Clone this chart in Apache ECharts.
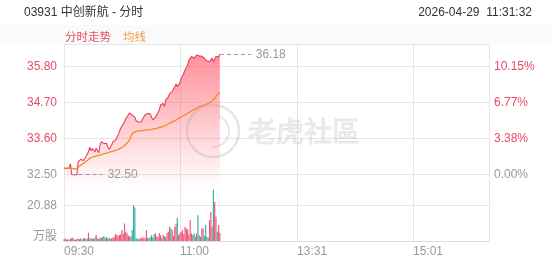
<!DOCTYPE html>
<html>
<head>
<meta charset="utf-8">
<script src="https://cdn.jsdelivr.net/npm/echarts@6/dist/echarts.min.js"></script>
<style>
html,body{margin:0;padding:0;background:#fff;}
#chart{width:552px;height:265px;}
</style>
</head>
<body>
<div id="chart"></div>
<script>
// ---------- data ----------
const stockTitle = '03931 中创新航 - 分时';
const stampText = '2026-04-29  11:31:32';
const preClose = 32.50;
const priceTicks = [32.50, 33.60, 34.70, 35.80];
const volumeTick = 20.88;
const tickLabels = ['09:30', '11:00', '13:31', '15:01'];

const priceData = [
  32.70, 32.70, 32.68, 32.72, 32.70, 32.83, 32.50, 32.50, 32.50, 32.52,
  32.50, 32.90, 32.93, 32.97, 32.95, 32.93, 32.92, 33.05, 33.02, 33.20,
  33.34, 33.23, 33.30, 33.36, 33.20, 33.31, 33.24, 33.17, 33.40, 33.51,
  33.50, 33.45, 33.41, 33.46, 33.35, 33.27, 33.25, 33.40, 33.51, 33.52,
  33.55, 33.58, 33.71, 33.76, 33.92, 33.95, 34.05, 34.12, 34.20, 34.27,
  34.33, 34.39, 34.36, 34.32, 34.28, 34.25, 34.15, 34.09, 34.10, 34.12,
  34.12, 34.20, 34.25, 34.33, 34.39, 34.37, 34.38, 34.36, 34.25, 34.18,
  34.17, 34.25, 34.30, 34.40, 34.48, 34.63, 34.60, 34.68, 34.58, 34.78,
  34.80, 34.88, 34.97, 34.95, 35.04, 35.10, 35.19, 35.27, 35.19, 35.25,
  35.31, 35.44, 35.50, 35.60, 35.70, 35.75, 35.85, 36.00, 36.05, 36.11,
  36.08, 36.06, 36.12, 36.16, 36.14, 36.13, 36.09, 36.12, 36.16, 36.06,
  36.00, 35.97, 35.92, 35.96, 36.00, 36.06, 35.96, 36.02, 36.11, 36.06,
  36.10, 36.18
];

const avgData = [
  32.70, 32.70, 32.70, 32.70, 32.71, 32.72, 32.70, 32.68, 32.67, 32.68,
  32.69, 32.72, 32.76, 32.80, 32.82, 32.85, 32.87, 32.90, 32.93, 32.96,
  33.00, 33.02, 33.04, 33.05, 33.06, 33.07, 33.08, 33.09, 33.10, 33.12,
  33.13, 33.14, 33.15, 33.16, 33.17, 33.18, 33.20, 33.21, 33.22, 33.23,
  33.24, 33.25, 33.27, 33.29, 33.31, 33.34, 33.36, 33.39, 33.43, 33.47,
  33.51, 33.58, 33.67, 33.75, 33.80, 33.81, 33.82, 33.83, 33.84, 33.84,
  33.85, 33.85, 33.86, 33.86, 33.87, 33.87, 33.88, 33.88, 33.89, 33.90,
  33.91, 33.91, 33.92, 33.93, 33.94, 33.95, 33.96, 33.97, 33.99, 34.01,
  34.03, 34.05, 34.07, 34.09, 34.11, 34.13, 34.15, 34.17, 34.19, 34.22,
  34.25, 34.27, 34.29, 34.31, 34.33, 34.35, 34.38, 34.40, 34.43, 34.45,
  34.47, 34.49, 34.51, 34.53, 34.55, 34.58, 34.59, 34.60, 34.62, 34.63,
  34.65, 34.66, 34.68, 34.70, 34.72, 34.75, 34.78, 34.83, 34.88, 34.94,
  34.98, 35.01
];

// 万股
const volumeData = [
  1.0, 1.5, 0.8, 1.2, 0.6, 1.4, 1.8, 2.1, 0.9, 0.7,
  1.2, 1.5, 1.0, 1.6, 0.8, 1.4, 1.8, 1.2, 1.5, 4.9,
  1.3, 1.6, 1.4, 1.2, 2.0, 3.5, 1.5, 1.2, 2.1, 1.8,
  2.4, 2.9, 1.6, 2.5, 1.5, 1.9, 1.3, 1.5, 2.0, 2.2,
  4.1, 3.5, 2.8, 3.5, 4.0, 6.4, 4.2, 10.3, 5.5, 4.5,
  3.2, 2.5, 3.0, 6.4, 21.1, 19.7, 1.8, 1.2, 1.0, 1.6,
  2.0, 1.5, 2.2, 1.4, 6.4, 2.0, 1.5, 2.4, 3.5, 2.0,
  3.9, 4.5, 2.6, 2.2, 4.5, 3.5, 1.8, 3.5, 2.9, 2.2,
  4.5, 5.5, 8.4, 7.4, 6.4, 3.0, 8.4, 10.3, 13.6, 3.5,
  4.5, 5.5, 6.4, 4.0, 8.4, 7.4, 6.8, 3.8, 12.3, 4.5,
  3.5, 4.5, 2.8, 4.5, 15.2, 3.5, 2.5, 7.4, 7.4, 3.0,
  9.4, 2.5, 1.9, 12.3, 17.2, 8.4, 30.2, 23.0, 14.2, 5.5,
  9.4, 4.9
];

// trading minutes: 09:30-12:00, 13:01-16:00
function pad(n) { return (n < 10 ? '0' : '') + n; }
const timeCategories = [];
for (let m = 9 * 60 + 30; m <= 12 * 60; m++) timeCategories.push(pad(Math.floor(m / 60)) + ':' + pad(m % 60));
for (let m = 13 * 60 + 1; m <= 16 * 60; m++) timeCategories.push(pad(Math.floor(m / 60)) + ':' + pad(m % 60));

// ---------- styles ----------
const RED = '#e84a66';
const GREY = '#999999';
const GRID_LINE = '#e6e6e6';
const FONT = '"Liberation Sans", Arial, "Noto Sans CJK SC", sans-serif';
const UP_BAR = '#f0587a';
const DOWN_BAR = '#36b3a3';

// axis ranges (padding around labelled ticks)
const pMin = 32.124, pMax = 36.494;

let maxIdx = 0, minIdx = 0;
priceData.forEach((v, i) => {
  if (v > priceData[maxIdx]) maxIdx = i;
  if (v < priceData[minIdx]) minIdx = i;
});
const markSpan = 24;

const lastIdx = timeCategories.length - 1;
const showTick = (idx, val) => tickLabels.indexOf(val) >= 0;
const showSplit = (idx, val) => tickLabels.indexOf(val) >= 0 || idx === lastIdx;

const chart = echarts.init(document.getElementById('chart'), null, { renderer: 'canvas' });
chart.setOption({
  animation: false,
  textStyle: { fontFamily: FONT },
  title: [
    { text: stockTitle, left: 19, top: 2, textStyle: { fontSize: 12, fontWeight: 'normal', color: '#333', fontFamily: FONT } },
    { text: stampText, right: 15, top: 2, textStyle: { fontSize: 12, fontWeight: 'normal', color: '#333', fontFamily: FONT } }
  ],
  legend: {
    left: 55, top: 27, icon: 'rect', itemWidth: 0, itemHeight: 0, itemGap: 7,
    selectedMode: false,
    textStyle: { fontSize: 11.5, fontFamily: FONT },
    data: [
      { name: '分时走势', textStyle: { color: RED } },
      { name: '均线', textStyle: { color: '#f39a3c' } }
    ]
  },
  graphic: [
    { type: 'rect', z: -10, silent: true, shape: { x: 0, y: 25, width: 552, height: 19 }, style: { fill: '#fafafa' } },
    { type: 'circle', z: 100, silent: true, shape: { cx: 213, cy: 131, r: 26 }, style: { fill: 'none', stroke: 'rgba(150,150,150,0.25)', lineWidth: 2.5 } },
    { type: 'arc', z: 100, silent: true, shape: { cx: 213, cy: 131, r: 16, startAngle: -1.2, endAngle: 1.6 }, style: { fill: 'none', stroke: 'rgba(150,150,150,0.22)', lineWidth: 2 } },
    { type: 'text', z: 100, silent: true, x: 248, y: 131, style: { text: '老虎社區', font: '28px "Noto Sans CJK SC", sans-serif', fill: 'rgba(205,205,205,0.3)', stroke: 'rgba(150,150,150,0.2)', lineWidth: 1, verticalAlign: 'middle', align: 'left' } }
  ],
  grid: [
    { left: 64, right: 63, top: 44, height: 143 },
    { left: 64, right: 63, top: 170, bottom: 24 }
  ],
  xAxis: [
    {
      type: 'category', gridIndex: 0, data: timeCategories, boundaryGap: false, position: 'top',
      axisLine: { show: true, lineStyle: { color: GRID_LINE } },
      axisTick: { show: false }, axisLabel: { show: false },
      splitLine: { show: true, interval: showSplit, lineStyle: { color: GRID_LINE } }
    },
    {
      type: 'category', gridIndex: 1, data: timeCategories, boundaryGap: false,
      axisLine: { show: true, lineStyle: { color: '#dddddd' } },
      axisTick: { show: false },
      axisLabel: { show: true, interval: showTick, color: GREY, fontSize: 12, align: 'left', margin: 5, fontFamily: FONT },
      splitLine: { show: true, interval: showSplit, lineStyle: { color: GRID_LINE } }
    }
  ],
  yAxis: [
    {
      type: 'value', gridIndex: 0, min: pMin, max: pMax, position: 'left',
      axisLine: { show: false },
      axisTick: { show: false, customValues: priceTicks },
      axisLabel: {
        customValues: priceTicks, margin: 7, fontSize: 12, fontFamily: FONT,
        formatter: v => v.toFixed(2),
        color: v => (v > preClose ? RED : GREY)
      },
      splitLine: { show: true, lineStyle: { color: GRID_LINE, width: 1 } }
    },
    {
      type: 'value', gridIndex: 0, min: pMin, max: pMax, position: 'right',
      axisLine: { show: false },
      axisTick: { show: false, customValues: priceTicks },
      axisLabel: {
        customValues: priceTicks, margin: 5, fontSize: 12, fontFamily: FONT,
        formatter: v => ((v / preClose - 1) * 100).toFixed(2) + '%',
        color: v => (v > preClose ? RED : GREY)
      },
      splitLine: { show: false }
    },
    {
      type: 'value', gridIndex: 1, min: 0, max: volumeTick * 2, interval: volumeTick,
      axisLine: { show: false }, axisTick: { show: false },
      axisLabel: {
        margin: 7, fontSize: 12, color: GREY, fontFamily: FONT, showMaxLabel: false,
        formatter: v => (v === 0 ? '{u|万股}' : (Math.abs(v - volumeTick) < 1e-6 ? v.toFixed(2) : '')),
        rich: { u: { fontSize: 12, color: GREY, padding: [0, 0, 8, 0], fontFamily: FONT } }
      },
      splitLine: { show: true, showMaxLine: false, showMinLine: false, lineStyle: { color: GRID_LINE } }
    }
  ],
  series: [
    {
      name: '分时走势', type: 'line', xAxisIndex: 0, yAxisIndex: 0, data: priceData,
      symbol: 'none', smooth: false, z: 3,
      lineStyle: { color: '#ec3d5c', width: 1.1 },
      itemStyle: { color: RED },
      areaStyle: {
        color: new echarts.graphic.LinearGradient(0, 0, 0, 1, [
          { offset: 0, color: 'rgba(255,82,98,0.92)' },
          { offset: 1, color: 'rgba(255,82,98,0.0)' }
        ])
      },
      markLine: {
        silent: true, symbol: 'none',
        lineStyle: { color: '#999', type: [4, 3], width: 1.2 },
        label: { show: true, position: 'end', distance: 5, color: GREY, fontSize: 12, fontFamily: FONT, formatter: p => p.value.toFixed(2) },
        data: [
          [{ coord: [maxIdx, priceData[maxIdx]], value: priceData[maxIdx] }, { coord: [maxIdx + markSpan, priceData[maxIdx]] }],
          [{ coord: [minIdx, priceData[minIdx]], value: priceData[minIdx] }, { coord: [minIdx + markSpan, priceData[minIdx]] }]
        ]
      }
    },
    {
      name: '均线', type: 'line', xAxisIndex: 0, yAxisIndex: 0, data: avgData,
      symbol: 'none', z: 4,
      lineStyle: { color: '#f58a22', width: 1.3 },
      itemStyle: { color: '#f39a3c' }
    },
    {
      name: '成交量', type: 'bar', xAxisIndex: 1, yAxisIndex: 2, data: volumeData,
      barWidth: 1.2,
      itemStyle: {
        color: p => {
          const i = p.dataIndex;
          const prev = i === 0 ? preClose : priceData[i - 1];
          return priceData[i] >= prev ? UP_BAR : DOWN_BAR;
        }
      }
    }
  ]
});
</script>
</body>
</html>
